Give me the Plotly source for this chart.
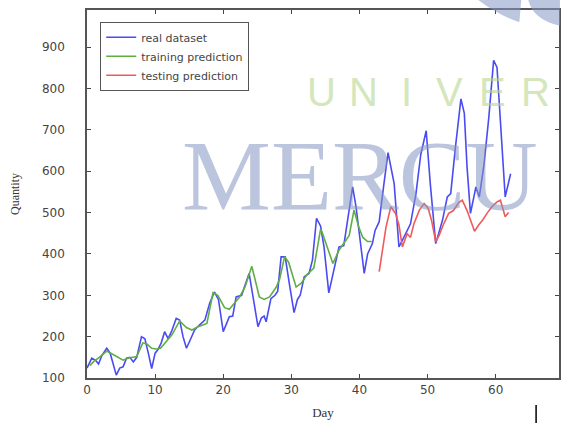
import plotly.graph_objects as go

# ---- data ----
real_x = [0.0, 0.7, 1.3, 1.7, 2.2, 2.9, 3.4, 3.9, 4.3, 4.8, 5.3, 5.8, 6.3, 6.8, 7.3, 8.0, 8.5, 9.0, 9.5,
          10.0, 10.4, 10.9, 11.4, 11.9, 12.4, 13.1, 13.6, 14.1, 14.6, 15.1, 15.8, 16.5, 17.3, 18.0, 18.7,
          19.3, 20.0, 20.5, 20.9, 21.4, 21.9, 22.7, 23.1, 23.8, 24.3, 25.1, 25.6, 26.0, 26.3, 27.0, 27.6,
          28.0, 28.5, 29.1, 29.7, 30.4, 30.9, 31.3, 31.9, 32.6, 33.1, 33.7, 34.3, 34.8, 35.5, 36.3, 37.0,
          37.7, 38.5, 39.0, 39.5, 40.2, 40.7, 41.2, 41.9, 42.3, 42.9, 43.6, 44.2, 45.1, 45.8, 46.3, 46.8,
          47.5, 48.3, 49.0, 49.8, 50.4, 51.2, 52.2, 52.9, 53.4, 54.1, 54.9, 55.4, 55.8, 56.3, 57.1, 57.6,
          58.3, 59.0, 59.7, 60.2, 60.7, 61.4, 62.2]
real_y = [124, 148, 142, 134, 155, 172, 160, 127, 107, 124, 127, 148, 150, 139, 150, 200, 195, 160, 123,
          160, 168, 185, 212, 195, 212, 244, 240, 200, 172, 190, 216, 228, 240, 280, 308,
          290, 212, 232, 248, 250, 296, 300, 320, 353, 304, 224, 245, 250, 236, 292, 300,
          310, 393, 393, 329, 258, 290, 300, 345, 353, 385, 486, 467, 417, 306, 369, 417,
          420, 514, 562, 514, 425, 353, 400, 425, 457, 478, 570, 645, 570, 417, 433, 449,
          473, 546, 640, 698, 570, 425, 482, 538, 546, 659, 775, 740, 610, 498, 562, 538,
          618, 731, 868, 851, 731, 538, 594]

train_x = [0.4, 1.0, 1.8, 2.9, 3.5, 4.3, 5.3, 6.0, 6.6, 7.3, 8.2, 8.8, 9.5, 10.2, 10.8, 11.7, 12.5,
           13.6, 14.6, 15.4, 16.3, 17.0, 17.6, 18.5, 19.2, 20.2, 20.9, 21.6, 22.4, 23.2, 24.2, 25.3,
           26.0, 26.8, 27.8, 28.3, 29.0, 29.6, 30.7, 31.5, 32.3, 33.3, 34.3, 34.6, 35.2, 36.1, 37.0,
           37.7, 38.5, 39.2, 39.9, 40.5, 41.2, 41.8]
train_y = [130, 140, 150, 165, 160, 152, 143, 148, 150, 152, 185, 182, 172, 170, 172, 190, 205,
           238, 222, 216, 224, 228, 232, 306, 300, 270, 266, 280, 296, 320, 370, 296,
           290, 296, 320, 340, 393, 380, 320, 330, 350, 366, 460, 449, 420, 377, 409,
           425, 445, 506, 465, 440, 430, 430]

test_x = [42.9, 43.9, 44.6, 45.3, 45.8, 46.3, 47.0, 47.5, 48.0, 48.8, 49.5, 50.1, 50.6, 51.2, 51.7,
          52.3, 53.1, 53.8, 54.6, 55.1, 55.8, 56.5, 56.9, 57.5, 58.1, 58.8, 59.5, 60.2, 60.7, 61.4, 61.9]
test_y = [357, 465, 514, 498, 470, 417, 449, 440, 473, 506, 522, 510, 480, 430, 445,
          470, 498, 505, 525, 530, 505, 470, 455, 470, 482, 500, 515, 526, 530, 490, 500]

series_names = ["real dataset", "training prediction", "testing prediction"]
x_ticks = [0, 10, 20, 30, 40, 50, 60]
y_ticks = [100, 200, 300, 400, 500, 600, 700, 800, 900]
watermark_big = "MERCU"
watermark_small = ["U", "N", "I", "V", "E", "R"]

fig = go.Figure()
fig.add_trace(go.Scatter(x=real_x, y=real_y, mode="lines", name=series_names[0],
                         line=dict(color="#4b4bf2", width=1.6)))
fig.add_trace(go.Scatter(x=train_x, y=train_y, mode="lines", name=series_names[1],
                         line=dict(color="#5fae45", width=1.6)))
fig.add_trace(go.Scatter(x=test_x, y=test_y, mode="lines", name=series_names[2],
                         line=dict(color="#f05a5a", width=1.6)))

# watermark (paper coordinates)
fig.add_annotation(text=watermark_big, xref="paper", yref="paper", x=(361 - 87) / 474,
                   y=1 - (175 - 10) / 368,
                   showarrow=False, font=dict(family="Liberation Serif", size=100, color="#8797c4"),
                   opacity=0.55, xanchor="center", yanchor="middle")
for i, ch in enumerate(watermark_small):
    fig.add_annotation(text=ch, xref="paper", yref="paper", x=(322 + i * 43 - 87) / 474,
                       y=1 - (92 - 10) / 368, showarrow=False,
                       font=dict(family="Liberation Sans", size=40, color="#b9d68e"),
                       opacity=0.6, xanchor="center", yanchor="middle")

# logo fragments in top-right corner
fig.add_shape(type="path", xref="paper", yref="paper",
              path="M 0.829 1.027 L 0.920 1.027 L 0.916 0.967 Q 0.871 0.986 0.829 1.027 Z",
              fillcolor="#8797c4", opacity=0.55, line=dict(width=0), layer="above")
fig.add_shape(type="path", xref="paper", yref="paper",
              path="M 0.935 1.027 L 1.002 1.027 L 1.002 0.957 Q 0.945 0.973 0.935 1.027 Z",
              fillcolor="#8797c4", opacity=0.55, line=dict(width=0), layer="above")
# cursor mark bottom right
fig.add_shape(type="line", xref="paper", yref="paper", x0=(538 - 87) / 474, x1=(538 - 87) / 474,
              y0=-(405 - 378) / 368, y1=-(423 - 378) / 368, line=dict(color="black", width=1.5))

fig.update_layout(
    width=562, height=423,
    margin=dict(l=87, r=1, t=10, b=45),
    paper_bgcolor="white", plot_bgcolor="white",
    showlegend=True,
    legend=dict(x=0.028, y=0.968, xanchor="left", yanchor="top",
                bgcolor="rgba(255,255,255,0.9)", bordercolor="#555", borderwidth=1,
                font=dict(family="DejaVu Sans", size=11, color="#444"),
                tracegroupgap=0, itemwidth=30),
    font=dict(family="DejaVu Sans", size=12, color="#333"),
)
fig.update_xaxes(range=[0, 69.3], tickvals=x_ticks, ticks="inside", ticklen=4,
                 showline=True, linecolor="#555", linewidth=1.5, mirror="ticks",
                 showgrid=False, zeroline=False,
                 title=dict(text="Day", font=dict(family="Liberation Serif", size=13, color="#333"),
                            standoff=12),
                 tickfont=dict(size=12, color="#444"))
fig.update_yaxes(range=[100, 990], tickvals=y_ticks, ticks="inside", ticklen=4,
                 ticklabelstandoff=18,
                 showline=True, linecolor="#555", linewidth=1.5, mirror="ticks",
                 showgrid=False, zeroline=False,
                 title=dict(text="Quantity", font=dict(family="Liberation Serif", size=12, color="#333"),
                            standoff=20),
                 tickfont=dict(size=12, color="#444"))

fig.write_html("out.html")
